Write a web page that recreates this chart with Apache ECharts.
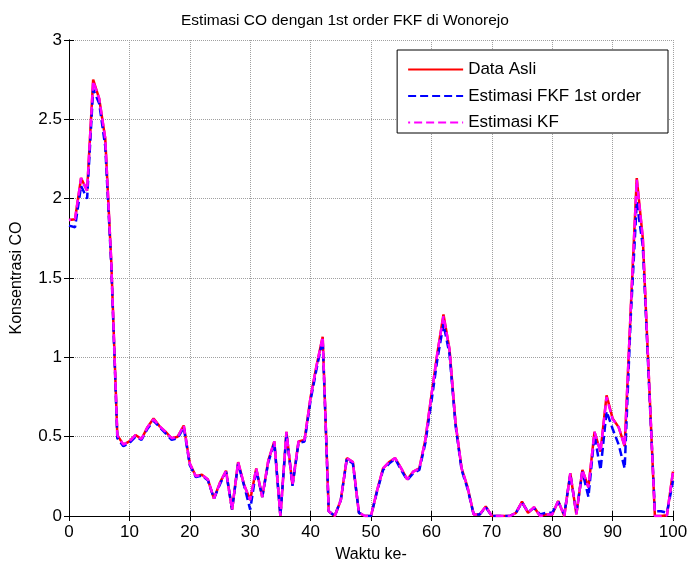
<!DOCTYPE html>
<html>
<head>
<meta charset="utf-8">
<script src="https://cdn.jsdelivr.net/npm/echarts@6/dist/echarts.min.js"></script>
<style>
  html, body { margin: 0; padding: 0; background: #fff; }
  #chart { width: 690px; height: 564px; }
</style>
</head>
<body>
<div id="chart"></div>
<script>
// waktu ke- 0..100
var waktu = [];
for (var i = 0; i <= 100; i++) { waktu.push(i); }

var xTicks = [0, 10, 20, 30, 40, 50, 60, 70, 80, 90, 100];
var yTicks = [0, 0.5, 1, 1.5, 2, 2.5, 3];

// data asli (merah)
var dataAsli = [
    1.865, 1.87, 2.13, 2.05, 2.75, 2.63, 2.38, 1.6, 0.51, 0.45,
    0.47, 0.51, 0.485, 0.56, 0.615, 0.565, 0.53, 0.49, 0.5, 0.57,
    0.33, 0.25, 0.26, 0.23, 0.11, 0.21, 0.285, 0.04, 0.34, 0.195,
    0.10, 0.30, 0.12, 0.35, 0.47, 0.0, 0.53, 0.195, 0.47, 0.48,
    0.75, 0.95, 1.13, 0.03, 0.0, 0.1, 0.365, 0.34, 0.02, 0.0,
    0.0, 0.16, 0.30, 0.34, 0.365, 0.30, 0.23, 0.28, 0.30, 0.48,
    0.76, 1.03, 1.27, 1.05, 0.585, 0.30, 0.18, 0.01, 0.01, 0.06,
    0.0, 0.0, 0.0, 0.0, 0.02, 0.09, 0.02, 0.055, 0.0, 0.01,
    0.01, 0.095, 0.0, 0.27, 0.01, 0.29, 0.18, 0.53, 0.405, 0.76,
    0.615, 0.56, 0.44, 1.3, 2.13, 1.75, 0.88, 0.0, 0.0, 0.005,
    0.28
];

// estimasi FKF 1st order (biru putus2)
var estFKF = [
    1.83, 1.82, 2.08, 2.0, 2.69, 2.6, 2.33, 1.58, 0.49, 0.44,
    0.46, 0.5, 0.48, 0.55, 0.6, 0.56, 0.52, 0.48, 0.49, 0.56,
    0.32, 0.245, 0.255, 0.225, 0.11, 0.2, 0.28, 0.04, 0.33, 0.19,
    0.04, 0.29, 0.12, 0.34, 0.46, 0.0, 0.52, 0.19, 0.46, 0.47,
    0.73, 0.93, 1.11, 0.03, 0.0, 0.1, 0.36, 0.33, 0.02, 0.0,
    0.0, 0.155, 0.29, 0.33, 0.36, 0.29, 0.225, 0.27, 0.29, 0.46,
    0.72, 0.99, 1.21, 1.02, 0.57, 0.29, 0.17, 0.01, 0.01, 0.055,
    0.0, 0.0, 0.0, 0.0, 0.02, 0.085, 0.025, 0.05, 0.01, 0.02,
    0.02, 0.09, 0.01, 0.26, 0.02, 0.28, 0.12, 0.51, 0.29, 0.66,
    0.55, 0.45, 0.30, 1.25, 1.98, 1.7, 0.85, 0.03, 0.03, 0.02,
    0.22
];

// estimasi KF (magenta putus2)
var estKF = [
    1.865, 1.87, 2.13, 2.05, 2.74, 2.63, 2.38, 1.6, 0.51, 0.45,
    0.47, 0.51, 0.485, 0.56, 0.61, 0.565, 0.53, 0.49, 0.5, 0.57,
    0.33, 0.25, 0.26, 0.23, 0.11, 0.21, 0.285, 0.04, 0.34, 0.195,
    0.10, 0.30, 0.12, 0.35, 0.47, 0.0, 0.53, 0.195, 0.47, 0.48,
    0.75, 0.95, 1.13, 0.03, 0.0, 0.1, 0.365, 0.34, 0.02, 0.0,
    0.0, 0.16, 0.30, 0.34, 0.365, 0.30, 0.23, 0.28, 0.30, 0.48,
    0.76, 1.03, 1.26, 1.05, 0.585, 0.30, 0.18, 0.01, 0.01, 0.06,
    0.0, 0.0, 0.0, 0.0, 0.02, 0.09, 0.02, 0.055, 0.0, 0.01,
    0.01, 0.095, 0.0, 0.27, 0.01, 0.29, 0.18, 0.53, 0.405, 0.75,
    0.61, 0.56, 0.44, 1.3, 2.12, 1.75, 0.88, 0.0, 0.0, 0.005,
    0.28
];

var pairs = function (ys) {
    var out = [];
    for (var k = 0; k < ys.length; k++) {
        out.push([waktu[k], ys[k]]);
    }
    return out;
};

var font = 'Liberation Sans, Arial, sans-serif';
var dash = [8, 4];

var chart = echarts.init(document.getElementById('chart'), null, {renderer: 'canvas'});

var boxAxis = {
    show: true,
    lineStyle: {color: '#000', width: 1}
};
var inTick = {
    show: true,
    inside: true,
    length: 5,
    lineStyle: {color: '#000'}
};

var option = {
    backgroundColor: '#fff',
    animation: false,
    title: {
        text: 'Estimasi CO dengan 1st order FKF di Wonorejo',
        left: 176,
        top: 8,
        textStyle: {fontFamily: font, fontSize: 15.5, fontWeight: 'normal', color: '#000'}
    },
    legend: {
        orient: 'vertical',
        right: 22,
        top: 50,
        backgroundColor: '#fff',
        borderColor: '#000',
        borderWidth: 1,
        borderRadius: 0,
        padding: [11, 27, 2, 10],
        itemWidth: 55,
        itemHeight: 14,
        itemGap: 9.5,
        itemStyle: {opacity: 0},
        textStyle: {fontFamily: font, fontSize: 17, color: '#000'},
        data: ['Data Asli', 'Estimasi FKF 1st order', 'Estimasi KF']
    },
    grid: {left: 69, right: 17, top: 40, bottom: 48, show: false, outerBoundsMode: 'none', containLabel: false},
    xAxis: [{
        type: 'value',
        min: 0,
        max: 100,
        interval: 10,
        name: 'Waktu ke-',
        nameLocation: 'middle',
        nameGap: 31,
        nameTextStyle: {fontFamily: font, fontSize: 16, color: '#000'},
        axisLine: boxAxis,
        axisTick: inTick,
        axisLabel: {fontFamily: font, fontSize: 17, color: '#000', margin: 8,
            formatter: function (v) { return xTicks.indexOf(v) >= 0 ? String(v) : ''; }},
        splitLine: {show: true, lineStyle: {color: '#a0a0a0', type: 'dotted', width: 1}}
    }, {
        type: 'value',
        position: 'top',
        min: 0,
        max: 100,
        interval: 10,
        axisLine: boxAxis,
        axisTick: inTick,
        axisLabel: {show: false},
        splitLine: {show: false}
    }],
    yAxis: [{
        type: 'value',
        min: 0,
        max: 3,
        interval: 0.5,
        name: 'Konsentrasi CO',
        nameLocation: 'middle',
        nameGap: 44,
        nameTextStyle: {fontFamily: font, fontSize: 16, color: '#000'},
        axisLine: boxAxis,
        axisTick: inTick,
        axisLabel: {fontFamily: font, fontSize: 17, color: '#000', margin: 7,
            formatter: function (v) { return yTicks.indexOf(v) >= 0 ? String(v) : ''; }},
        splitLine: {show: true, lineStyle: {color: '#a0a0a0', type: 'dotted', width: 1}}
    }, {
        type: 'value',
        position: 'right',
        min: 0,
        max: 3,
        interval: 0.5,
        axisLine: boxAxis,
        axisTick: inTick,
        axisLabel: {show: false},
        splitLine: {show: false}
    }],
    series: [{
        name: 'Data Asli',
        type: 'line',
        showSymbol: false,
        symbol: 'none',
        lineStyle: {color: '#ff0000', width: 2.5},
        itemStyle: {color: '#ff0000'},
        data: pairs(dataAsli)
    }, {
        name: 'Estimasi FKF 1st order',
        type: 'line',
        showSymbol: false,
        symbol: 'none',
        lineStyle: {color: '#0000ff', width: 2.5, type: dash},
        itemStyle: {color: '#0000ff'},
        data: pairs(estFKF)
    }, {
        name: 'Estimasi KF',
        type: 'line',
        showSymbol: false,
        symbol: 'none',
        lineStyle: {color: '#ff00ff', width: 2.5, type: dash, dashOffset: 6},
        itemStyle: {color: '#ff00ff'},
        data: pairs(estKF)
    }]
};

chart.setOption(option);
</script>
</body>
</html>
